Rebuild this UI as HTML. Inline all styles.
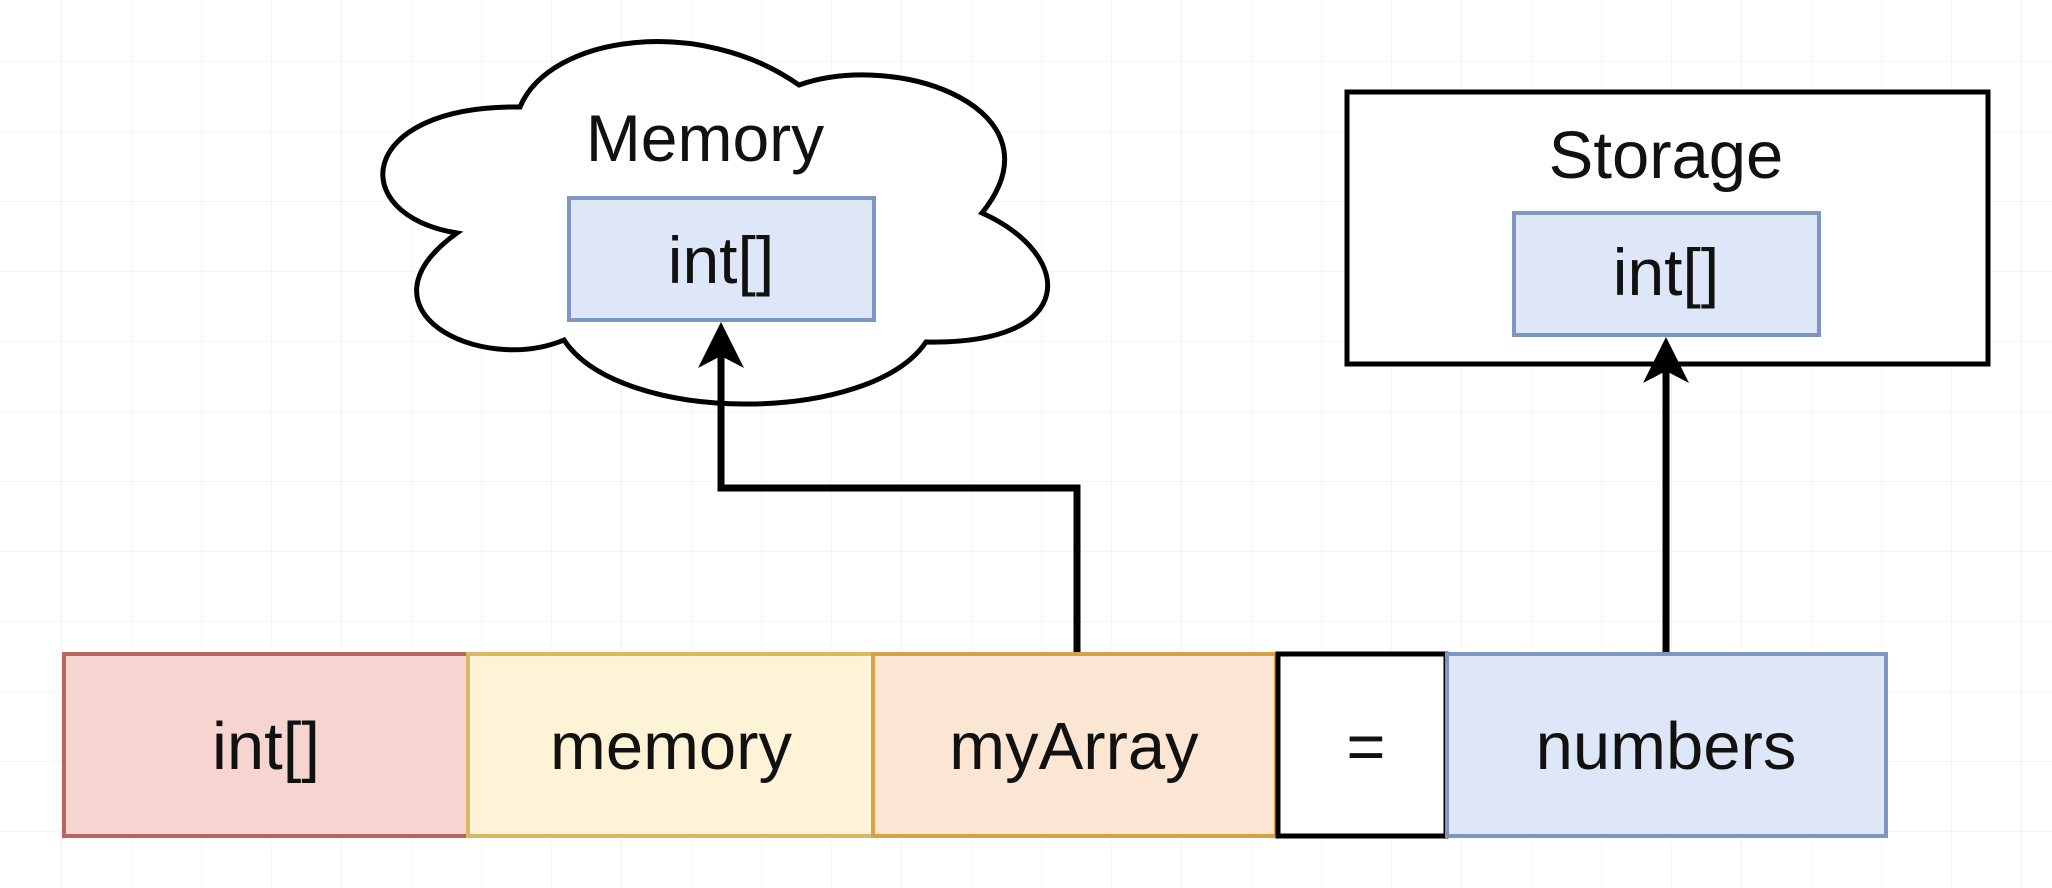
<!DOCTYPE html>
<html><head><meta charset="utf-8"><style>
html,body{margin:0;padding:0;background:#fff;}
svg{display:block}
text{font-family:"Liberation Sans",Arial,sans-serif;fill:#111;}
</style></head><body>
<svg width="2052" height="888" viewBox="0 0 2052 888" xmlns="http://www.w3.org/2000/svg">
<defs>
<pattern id="g" x="-8" y="-8" width="70" height="70" patternUnits="userSpaceOnUse">
<path d="M70 0 V70 M0 70 H70" stroke="#f5f5f5" stroke-width="2" fill="none"/>
</pattern>
</defs>
<rect width="2052" height="888" fill="url(#g)"/>
<!-- cloud -->
<path d="M520 107 C550 35 700 15 799 85 C900 50 1065 110 982 213 C1075 255 1080 345 926 342 C870 425 620 425 564 340 C480 375 350 310 457 233 C345 215 355 105 520 107 Z" fill="#fff" stroke="#000" stroke-width="5"/>
<text x="705" y="161" font-size="66" text-anchor="middle">Memory</text>
<rect x="569" y="198" width="305" height="122" fill="#dde7f8" stroke="#7d97c2" stroke-width="4"/>
<text x="721" y="283" font-size="66" text-anchor="middle">int[]</text>
<!-- storage -->
<rect x="1347" y="92" width="641" height="272" fill="#fff" stroke="#000" stroke-width="5"/>
<text x="1666" y="178" font-size="67" text-anchor="middle">Storage</text>
<rect x="1514" y="213" width="305" height="122" fill="#dde7f8" stroke="#7d97c2" stroke-width="4"/>
<text x="1666" y="295" font-size="66" text-anchor="middle">int[]</text>
<!-- bottom row -->
<rect x="64" y="654" width="404" height="182" fill="#f6d4cf" stroke="#b86660" stroke-width="4"/>
<rect x="468" y="654" width="405" height="182" fill="#fdf3d6" stroke="#d9b962" stroke-width="4"/>
<rect x="873" y="654" width="403" height="182" fill="#fae6d2" stroke="#d8a146" stroke-width="4"/>
<rect x="1278" y="654" width="168" height="182" fill="#fff" stroke="#000" stroke-width="5"/>
<rect x="1447" y="654" width="439" height="182" fill="#dde7f8" stroke="#7d97c2" stroke-width="4"/>
<text x="266" y="769" font-size="67" text-anchor="middle">int[]</text>
<text x="671" y="769" font-size="67" text-anchor="middle">memory</text>
<text x="1074" y="769" font-size="67" text-anchor="middle">myArray</text>
<text x="1366" y="769" font-size="67" text-anchor="middle">=</text>
<text x="1666" y="769" font-size="67" text-anchor="middle">numbers</text>
<!-- connectors -->
<polyline points="1077,652 1077,488 721,488 721,350" fill="none" stroke="#000" stroke-width="7"/>
<path d="M721 322 L698 368 L721 356 L744 368 Z" fill="#000"/>
<line x1="1666" y1="652" x2="1666" y2="365" stroke="#000" stroke-width="7"/>
<path d="M1666 337 L1643 383 L1666 371 L1689 383 Z" fill="#000"/>
</svg>
</body></html>
